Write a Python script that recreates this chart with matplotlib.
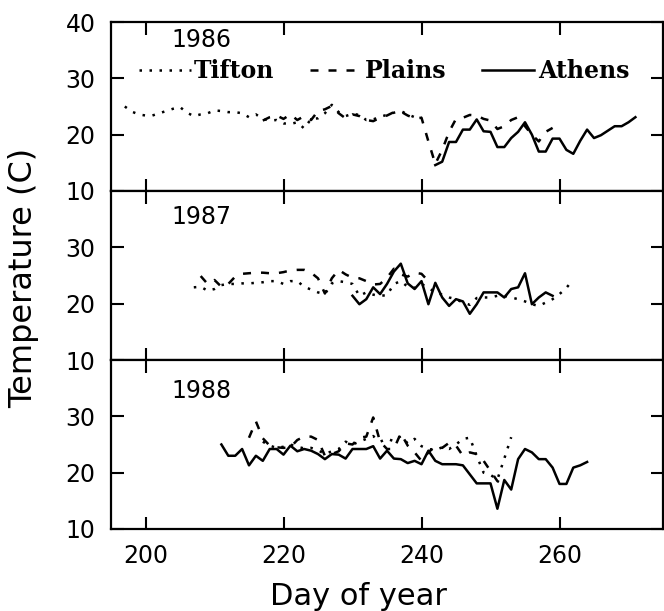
import numpy as np
import matplotlib
matplotlib.use('Agg')
import matplotlib.pyplot as plt

# daily mean temperature (C)
years = ['1986', '1987', '1988']
sites = ['Tifton', 'Plains', 'Athens']

tifton_start = [197, 207, 217]
tifton_1986 = [25.0, 24.1, 23.6, 23.4, 23.4, 23.8, 24.2, 24.6, 24.9, 23.9, 23.3,
               23.6, 23.8, 24.3, 24.2, 24.0, 24.0, 23.8, 23.1, 23.6, 22.8, 22.5,
               22.6, 22.0, 21.9, 22.2, 21.1, 22.8, 22.9, 23.8, 25.3, 24.0, 23.3,
               23.7, 23.5, 22.6, 22.7, 23.2, 23.5, 23.9, 24.2, 23.6, 23.1, 23.1]
tifton_1987 = [22.9, 23.0, 22.3, 22.6, 23.3, 23.5, 23.5, 23.6, 23.6, 23.7, 23.8,
               24.0, 24.0, 23.5, 24.0, 24.0, 23.0, 22.5, 22.0, 21.7, 23.6, 24.0,
               23.8, 23.5, 21.4, 22.0, 21.6, 21.4, 21.5, 23.5, 24.0, 23.0, 22.8,
               23.5, 22.8, 22.0, 21.6, 21.1, 20.8, 20.2, 19.8, 21.0, 21.1, 21.1,
               21.4, 21.4, 21.1, 20.8, 20.4, 19.9, 19.6, 20.2, 20.8, 21.7, 22.8, 24.3]
tifton_1988 = [25.5, 24.8, 24.4, 24.6, 25.0, 24.6, 24.3, 24.4, 24.0, 23.3, 23.8,
               24.2, 25.5, 25.0, 25.5, 26.0, 26.5, 25.5, 26.0, 25.6, 26.5, 25.2,
               26.0, 24.7, 24.2, 24.0, 24.5, 24.2, 25.0, 26.0, 26.2, 23.0, 20.0,
               19.6, 18.8, 22.5, 26.3]

plains_start = [217, 208, 215]
plains_1986 = [22.5, 23.1, 23.4, 22.8, 23.6, 22.6, 23.3, 22.6, 24.2, 24.5, 25.1,
               23.8, 22.9, 23.6, 23.3, 22.6, 22.4, 23.0, 23.4, 24.0, 24.1, 23.4,
               22.9, 23.0, 18.8, 14.8, 17.3, 20.5, 22.8, 23.0, 23.5, 23.4, 22.8,
               22.5, 21.0, 21.5, 22.6, 23.1, 21.5, 20.0, 18.8, 20.5, 21.2]
plains_1987 = [24.9, 23.5, 24.2, 23.0, 23.5, 24.8, 25.3, 25.4, 25.5, 25.5, 25.4,
               25.4, 25.6, 25.9, 26.0, 26.0, 25.5, 24.5, 21.8, 24.5, 26.0, 25.2,
               24.6, 24.5, 24.0, 23.4, 23.5, 24.6, 26.2, 25.2, 24.8, 25.5, 25.3, 24.0]
plains_1988 = [26.2, 29.1, 26.1, 24.8, 24.5, 24.4, 24.5, 25.8, 26.4, 26.4, 25.8,
               23.0, 23.3, 23.8, 25.2, 25.0, 26.2, 26.4, 29.8, 25.5, 24.2, 24.2,
               27.0, 24.8, 23.6, 22.1, 23.6, 24.7, 24.4, 25.3, 24.8, 23.0, 23.6,
               23.3, 22.1, 20.3, 18.5, 17.8]

athens_start = [242, 230, 211]
athens_1986 = [14.6, 15.2, 18.7, 18.7, 20.9, 20.9, 22.7, 20.6, 20.5, 17.8, 17.8,
               19.4, 20.5, 22.2, 20.0, 17.0, 17.0, 19.3, 19.3, 17.3, 16.6, 18.9,
               20.9, 19.4, 19.9, 20.7, 21.5, 21.5, 22.2, 23.1]
athens_1987 = [21.4, 19.9, 20.8, 22.9, 21.7, 23.5, 25.7, 27.1, 23.6, 22.6, 24.0,
               19.9, 23.7, 21.1, 19.6, 20.8, 20.4, 18.2, 19.9, 22.0, 22.0, 22.0,
               21.1, 22.6, 22.9, 25.4, 19.9, 21.1, 22.0, 21.4]
athens_1988 = [25.0, 23.0, 23.0, 24.2, 21.3, 23.0, 22.1, 24.2, 24.2, 23.2, 24.8,
               23.8, 24.2, 23.9, 23.3, 22.4, 23.3, 23.2, 22.5, 24.2, 24.2, 24.2,
               24.7, 22.5, 23.9, 22.5, 22.4, 21.7, 22.1, 21.5, 23.9, 22.1, 21.5,
               21.5, 21.5, 21.3, 19.7, 18.1, 18.1, 18.1, 13.6, 18.7, 17.0, 22.4,
               24.2, 23.6, 22.4, 22.4, 20.9, 18.0, 18.0, 20.9, 21.3, 21.9]

tifton = [tifton_1986, tifton_1987, tifton_1988]
plains = [plains_1986, plains_1987, plains_1988]
athens = [athens_1986, athens_1987, athens_1988]

styles = {
  'Tifton': dict(linestyle=(0, (1, 3.0)), linewidth=1.8, color='black'),
  'Plains': dict(linestyle=(0, (3.2, 4.0)), linewidth=1.8, color='black'),
  'Athens': dict(linestyle='-', linewidth=1.8, color='black'),
}

plt.rcParams['font.family'] = ['DejaVu Sans']

fig = plt.figure(figsize=(6.64, 6.11), dpi=100)

left, width = 111 / 664, 552 / 664
h = 169 / 611
bottom0 = 82 / 611
year_pos = [0.896, 0.845, 0.815]

axes = []
for i in range(3):
  ax = fig.add_axes([left, bottom0 + (2 - i) * h, width, h])
  axes.append(ax)
  handles = []
  for name, data, start in zip(sites, [tifton[i], plains[i], athens[i]],
                               [tifton_start[i], plains_start[i], athens_start[i]]):
    days = np.arange(start, start + len(data))
    line, = ax.plot(days, data, label=name, **styles[name])
    handles.append(line)

  ax.set_xlim(195, 275)
  ax.set_ylim(10, 40)
  ax.set_xticks([200, 220, 240, 260])
  if i == 0:
    ax.set_yticks([10, 20, 30, 40])
  else:
    ax.set_yticks([10, 20, 30])
  ax.tick_params(direction='in', length=9, width=1.5, top=True, right=True,
                 labelsize=17, pad=11)
  if i < 2:
    ax.tick_params(labelbottom=False)
  for s in ax.spines.values():
    s.set_linewidth(1.6)

  ax.text(0.11, year_pos[i], years[i], transform=ax.transAxes,
          fontsize=17, va='center', ha='left')

  if i == 0:
    ax.legend(handles=handles, loc='center left', bbox_to_anchor=(0.05, 0.71),
              ncol=3, frameon=False, handlelength=2.2, handletextpad=0.15,
              columnspacing=1.5, borderpad=0, borderaxespad=0,
              prop={'family': 'DejaVu Serif', 'weight': 'bold', 'size': 17})

axes[2].set_xlabel('Day of year', fontsize=22, va='top')
axes[2].xaxis.set_label_coords(0.448, -0.315)
fig.text(0.036, 0.5 + (611 / 2 - 277.5) / 611, 'Temperature (C)', rotation=90,
         fontsize=23, va='center', ha='center')

fig.savefig('out.png', dpi=100)
